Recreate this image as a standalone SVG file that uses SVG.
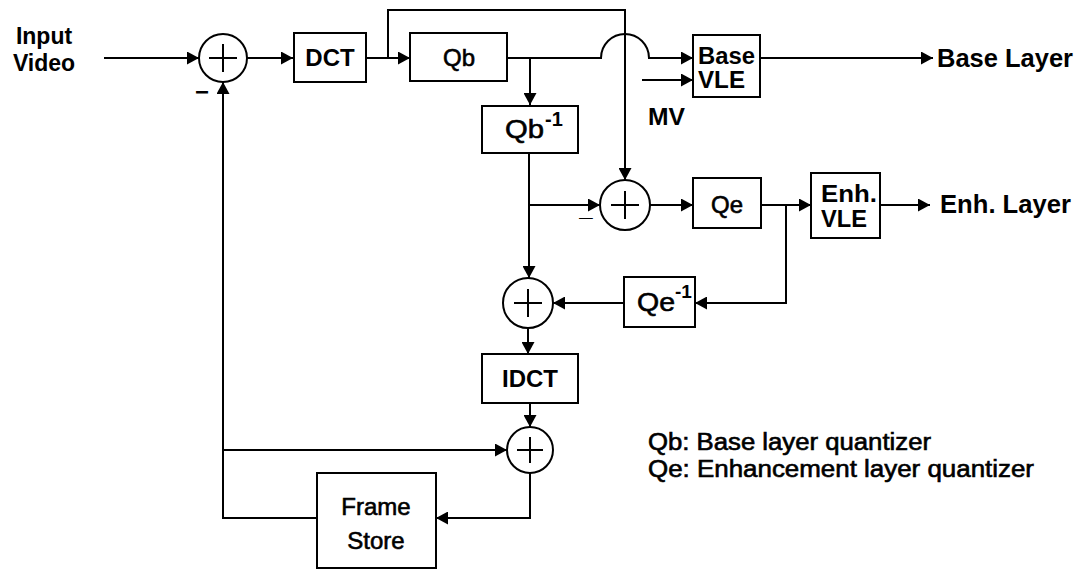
<svg xmlns="http://www.w3.org/2000/svg" width="1080" height="569" viewBox="0 0 1080 569">
<style>
.box{fill:#fff;stroke:#000;stroke-width:2}
.sum{fill:#fff;stroke:#000;stroke-width:2}
.plus{stroke:#000;stroke-width:2;fill:none}
.w{fill:none;stroke:#000;stroke-width:2}
.wa{fill:none;stroke:#000;stroke-width:2;marker-end:url(#ah)}
text{font-family:"Liberation Sans",Arial,sans-serif;fill:#000}
.b{font-weight:bold}
.m{stroke:#000;stroke-width:0.6}
.lbl{font-size:24px;text-anchor:middle}
</style>
<defs>
<marker id="ah" markerUnits="userSpaceOnUse" markerWidth="13" markerHeight="13" refX="12" refY="6.5" orient="auto">
<path d="M0,0 L12,6.5 L0,13 z" fill="#000"/>
</marker>
</defs>
<rect width="1080" height="569" fill="#fff"/>
<g id="connectors">
<path class="wa" d="M104,58 H199"/>
<path class="wa" d="M247,58 H293"/>
<path class="wa" d="M366,58 H410"/>
<path class="wa" d="M388,58 V10 H625 V180"/>
<path class="wa" d="M507,58 H601 A24,24 0 0 1 649,58 H693"/>
<path class="wa" d="M642,80 H693"/>
<path class="wa" d="M760,58 H933"/>
<path class="wa" d="M530,58 V105"/>
<path class="wa" d="M529,153 V278"/>
<path class="wa" d="M529,205 H600"/>
<path class="wa" d="M650,205 H693"/>
<path class="wa" d="M761,205 H811"/>
<path class="wa" d="M880,205 H930"/>
<path class="wa" d="M786,205 V303 H695"/>
<path class="wa" d="M624,303 H553"/>
<path class="wa" d="M528,328 V354"/>
<path class="wa" d="M530,403 V427"/>
<path class="wa" d="M530,473 V518 H436"/>
<path class="wa" d="M317,518 H223 V82"/>
<path class="wa" d="M223,450 H507"/>
</g>
<g id="input-label">
<text class="b" x="44" y="44" font-size="23" text-anchor="middle">Input</text>
<text class="b" x="44" y="71" font-size="23" text-anchor="middle">Video</text>
</g>
<g id="sum1">
<circle class="sum" cx="223" cy="58" r="24"/>
<path class="plus" d="M209,58 H237 M223,44 V72"/>
<text class="b" x="202" y="100" font-size="24" text-anchor="middle">−</text>
</g>
<g id="dct">
<rect class="box" x="294" y="33" width="72" height="49"/>
<text class="lbl b" x="330" y="66" font-size="23">DCT</text>
</g>
<g id="qb">
<rect class="box" x="410" y="33" width="97" height="48"/>
<text class="lbl m" x="459" y="66" font-size="25">Qb</text>
</g>
<g id="base-vle">
<rect class="box" x="693" y="35" width="67" height="62"/>
<text class="b" x="698" y="64" font-size="23" textLength="57" lengthAdjust="spacingAndGlyphs">Base</text>
<text class="b" x="698" y="88" font-size="23" textLength="47" lengthAdjust="spacingAndGlyphs">VLE</text>
</g>
<g id="mv-label">
<text class="b" x="648" y="125" font-size="23" textLength="37" lengthAdjust="spacingAndGlyphs">MV</text>
</g>
<g id="base-layer-label">
<text class="b" x="937" y="67" font-size="25" textLength="136" lengthAdjust="spacingAndGlyphs">Base Layer</text>
</g>
<g id="qb-inv">
<rect class="box" x="482" y="106" width="96" height="47"/>
<text class="m" x="505" y="138" font-size="26" textLength="39" lengthAdjust="spacingAndGlyphs">Qb</text>
<text class="b" x="545" y="126" font-size="20">-1</text>
</g>
<g id="sum2">
<circle class="sum" cx="625" cy="205" r="25"/>
<path class="plus" d="M611,205 H639 M625,191 V219"/>
<text class="b" x="586" y="216" font-size="24" text-anchor="middle">_</text>
</g>
<g id="qe">
<rect class="box" x="693" y="178" width="68" height="50"/>
<text class="lbl m" x="727" y="213" font-size="25">Qe</text>
</g>
<g id="enh-vle">
<rect class="box" x="811" y="173" width="69" height="65"/>
<text class="b" x="821" y="202" font-size="23" textLength="56" lengthAdjust="spacingAndGlyphs">Enh.</text>
<text class="b" x="821" y="227" font-size="23" textLength="46" lengthAdjust="spacingAndGlyphs">VLE</text>
</g>
<g id="enh-layer-label">
<text class="b" x="940" y="213" font-size="25" textLength="131" lengthAdjust="spacingAndGlyphs">Enh. Layer</text>
</g>
<g id="qe-inv">
<rect class="box" x="624" y="277" width="71" height="50"/>
<text class="m" x="637" y="311" font-size="25" textLength="38" lengthAdjust="spacingAndGlyphs">Qe</text>
<text class="b" x="675" y="298" font-size="19">-1</text>
</g>
<g id="sum3">
<circle class="sum" cx="528" cy="303" r="25"/>
<path class="plus" d="M514,303 H542 M528,289 V317"/>
</g>
<g id="idct">
<rect class="box" x="482" y="354" width="96" height="49"/>
<text class="lbl b" x="530" y="387" font-size="23">IDCT</text>
</g>
<g id="sum4">
<circle class="sum" cx="530" cy="450" r="23"/>
<path class="plus" d="M517,450 H543 M530,437 V463"/>
</g>
<g id="frame-store">
<rect class="box" x="317" y="473" width="119" height="95"/>
<text class="lbl m" x="376" y="515">Frame</text>
<text class="lbl m" x="376" y="549">Store</text>
</g>
<g id="legend">
<text class="m" x="648" y="450" font-size="23" textLength="283" lengthAdjust="spacingAndGlyphs" stroke-width="0.4">Qb: Base layer quantizer</text>
<text class="m" x="648" y="477" font-size="23" textLength="386" lengthAdjust="spacingAndGlyphs" stroke-width="0.4">Qe: Enhancement layer quantizer</text>
</g>
</svg>
